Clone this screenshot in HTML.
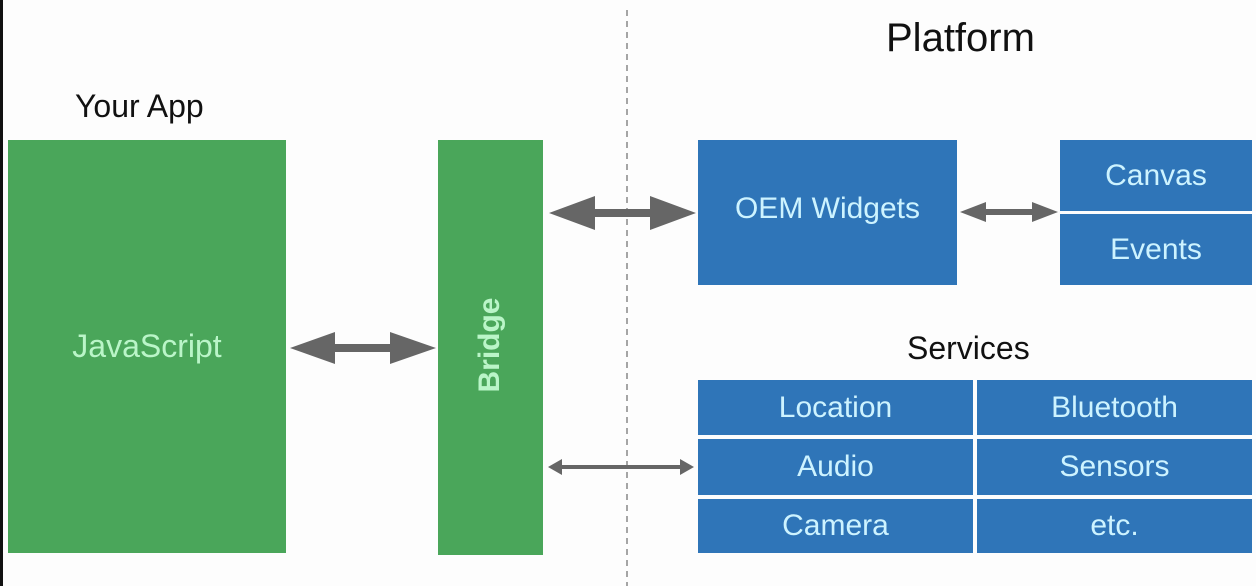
<!DOCTYPE html>
<html><head><meta charset="utf-8"><style>
body{margin:0;width:1256px;height:586px;background:#fdfdfd;position:relative;overflow:hidden;font-family:"Liberation Sans",sans-serif}
.a{position:absolute}
.g{background:#4aa65a}
.b{background:#2f75b8;color:#cdf3ff;display:flex;align-items:center;justify-content:center;font-size:30px}
</style></head><body>
<div class="a" style="left:0;top:0;width:3px;height:586px;background:#111"></div>
<div class="a" style="left:75px;top:88px;font-size:32px;color:#111">Your App</div>
<div class="a" style="left:886px;top:16px;font-size:40px;color:#111">Platform</div>
<div class="a" style="left:907px;top:330px;font-size:32px;color:#111">Services</div>
<div class="a g" style="left:8px;top:140px;width:278px;height:413px"></div>
<div class="a" style="left:8px;top:328px;width:278px;text-align:center;font-size:32px;color:#baf5c8">JavaScript</div>
<div class="a g" style="left:438px;top:140px;width:105px;height:415px"></div>
<div class="a" style="left:420px;top:328px;width:140px;text-align:center;font-size:30px;font-weight:bold;color:#baf5c8;transform:rotate(-90deg)">Bridge</div>
<div class="a b" style="left:698px;top:140px;width:259px;height:145px;padding-bottom:2px;box-sizing:border-box"><span style="margin-top:-6px">OEM Widgets</span></div>
<div class="a b" style="left:1060px;top:140px;width:192px;height:71px">Canvas</div>
<div class="a b" style="left:1060px;top:214px;width:192px;height:71px">Events</div>
<div class="a b" style="left:698px;top:380px;width:275px;height:55px">Location</div>
<div class="a b" style="left:977px;top:380px;width:275px;height:55px">Bluetooth</div>
<div class="a b" style="left:698px;top:439px;width:275px;height:56px">Audio</div>
<div class="a b" style="left:977px;top:439px;width:275px;height:56px">Sensors</div>
<div class="a b" style="left:698px;top:499px;width:275px;height:54px">Camera</div>
<div class="a b" style="left:977px;top:499px;width:275px;height:54px">etc.</div>
<svg class="a" style="left:0;top:0" width="1256" height="586">
<line x1="627" y1="10" x2="627" y2="586" stroke="#888" stroke-width="1.5" stroke-dasharray="6,5"/>
<g fill="#666">
<polygon points="290,348 335,332 335,344 390,344 390,332 436,348 390,364 390,352 335,352 335,364"/>
<polygon points="549,213 595,196 595,209 650,209 650,196 696,213 650,230 650,217 595,217 595,230"/>
<polygon points="960,212 986,202 986,209 1032,209 1032,202 1058,212 1032,222 1032,215 986,215 986,222"/>
<polygon points="548,467 562,459 562,465 680,465 680,459 694,467 680,475 680,469 562,469 562,475"/>
</g>
</svg>
</body></html>
